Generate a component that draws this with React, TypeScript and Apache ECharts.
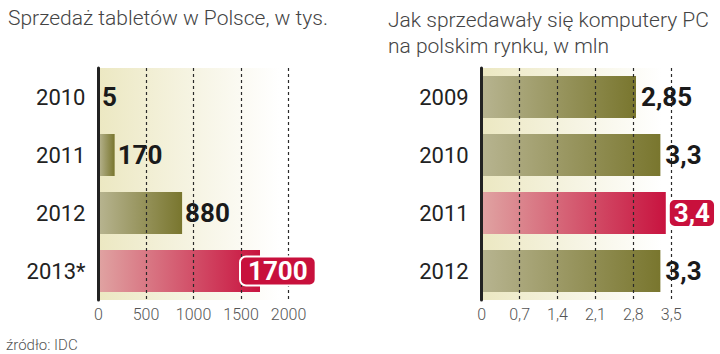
import React, { useEffect, useRef } from "react";
import * as echarts from "echarts";

const tabletYears = ["2010", "2011", "2012", "2013*"];
const tabletValues = [5, 170, 880, 1700];
const tabletTicks = [0, 500, 1000, 1500, 2000];

const pcYears = ["2009", "2010", "2011", "2012"];
const pcValues = [2.85, 3.3, 3.4, 3.3];
const pcLabels = ["2,85", "3,3", "3,4", "3,3"];
const pcTicks = [0, 0.7, 1.4, 2.1, 2.8, 3.5];

const highlightTablet = 3;
const highlightPc = 2;

const LIGHT = "Roboto";
const BOLD = "Roboto, sans-serif";

const olive = new echarts.graphic.LinearGradient(0, 0, 1, 0, [
  { offset: 0, color: "#b7b490" },
  { offset: 1, color: "#79762e" },
]);
const crimson = new echarts.graphic.LinearGradient(0, 0, 1, 0, [
  { offset: 0, color: "#e0a3a2" },
  { offset: 1, color: "#c8133f" },
]);
const panel = () =>
  new echarts.graphic.LinearGradient(0, 0, 1, 0, [
    { offset: 0, color: "#ece8c2" },
    { offset: 0.5, color: "#f6f4e3" },
    { offset: 0.95, color: "#ffffff" },
  ]);

export default function App() {
  const ref = useRef<HTMLDivElement>(null);
  useEffect(() => {
    document.body.style.margin = "0";
    const chart = echarts.init(ref.current!, null, { renderer: "svg" });
    const valueLabel = {
      show: true,
      position: "right",
      distance: 3,
      color: "#1a1a1a",
      fontFamily: BOLD,
      fontWeight: "bold",
      fontSize: 26,
    };
    const boxLabel = (distance: number, pad: number[]) => ({
      show: true,
      position: "right",
      distance,
      color: "#ffffff",
      fontFamily: BOLD,
      fontWeight: "bold",
      fontSize: 26,
      backgroundColor: "#c8103c",
      borderColor: "#ffffff",
      borderWidth: 2,
      borderRadius: 5,
      padding: pad,
    });
    const xAxisBase = {
      type: "value",
      min: 0,
      z: 3,
      axisLine: { show: false },
      axisTick: { show: false },
      splitLine: { show: true, lineStyle: { color: "#2a2a2a", width: 1.2, type: [3, 3] } },
      axisLabel: { color: "#555", fontFamily: LIGHT, fontWeight: 300, fontSize: 16, margin: 6 },
    };
    const yAxisBase = {
      type: "category",
      inverse: true,
      z: 4,
      axisLine: { show: true, lineStyle: { color: "#222", width: 3 } },
      axisTick: { show: false },
      axisLabel: { color: "#222", fontFamily: LIGHT, fontWeight: 400, fontSize: 22, margin: 13 },
    };
    const transparent = "rgba(0,0,0,0)";
    chart.setOption({
      animation: false,
      title: [
        {
          text: "Sprzedaż tabletów w Polsce, w tys.",
          left: 3,
          top: 2,
          textStyle: { fontFamily: LIGHT, fontWeight: 300, fontSize: 21, color: "#444" },
        },
        {
          text: "Jak sprzedawały się komputery PC\nna polskim rynku, w mln",
          left: 383,
          top: 2,
          textStyle: { fontFamily: LIGHT, fontWeight: 300, fontSize: 21, color: "#444", lineHeight: 26 },
        },
        {
          text: "źródło: IDC",
          left: 1,
          top: 332,
          textStyle: { fontFamily: LIGHT, fontWeight: 300, fontSize: 15, color: "#555" },
        },
      ],
      grid: [
        { left: 98.5, top: 68, width: 190, height: 232, show: true, borderWidth: 0, backgroundColor: panel() },
        { left: 481.7, top: 68, width: 189.5, height: 232, show: true, borderWidth: 0, backgroundColor: panel() },
      ],
      xAxis: [
        {
          ...xAxisBase,
          gridIndex: 0,
          max: tabletTicks[tabletTicks.length - 1],
          interval: tabletTicks[1] - tabletTicks[0],
          axisLabel: { ...xAxisBase.axisLabel, formatter: (v: number) => String(v) },
        },
        {
          ...xAxisBase,
          gridIndex: 1,
          max: pcTicks[pcTicks.length - 1],
          interval: pcTicks[1] - pcTicks[0],
          axisLabel: {
            ...xAxisBase.axisLabel,
            formatter: (v: number) => String(Math.round(v * 10) / 10).replace(".", ","),
          },
        },
      ],
      yAxis: [
        { ...yAxisBase, gridIndex: 0, data: tabletYears },
        { ...yAxisBase, gridIndex: 1, data: pcYears },
      ],
      series: [
        {
          type: "bar",
          xAxisIndex: 0,
          yAxisIndex: 0,
          barWidth: 42,
          z: 2,
          data: tabletValues.map((v, i) => ({
            value: v,
            itemStyle: { color: i === highlightTablet ? crimson : olive },
          })),
        },
        {
          type: "bar",
          xAxisIndex: 0,
          yAxisIndex: 0,
          barWidth: 42,
          barGap: "-100%",
          z: 6,
          silent: true,
          data: tabletValues.map((v, i) => ({
            value: v,
            itemStyle: { color: transparent },
            label: i === highlightTablet ? boxLabel(-19, [1, 7, 0, 7]) : valueLabel,
          })),
        },
        {
          type: "bar",
          xAxisIndex: 1,
          yAxisIndex: 1,
          barWidth: 42,
          z: 2,
          data: pcValues.map((v, i) => ({
            value: v,
            itemStyle: { color: i === highlightPc ? crimson : olive },
          })),
        },
        {
          type: "bar",
          xAxisIndex: 1,
          yAxisIndex: 1,
          barWidth: 42,
          barGap: "-100%",
          z: 6,
          silent: true,
          data: pcValues.map((v, i) => ({
            value: v,
            itemStyle: { color: transparent },
            label:
              i === highlightPc
                ? { ...boxLabel(4, [0, 4, 0, 4]), formatter: pcLabels[i] }
                : { ...valueLabel, distance: 5, formatter: pcLabels[i] },
          })),
        },
      ],
    });
    return () => chart.dispose();
  }, []);
  return <div ref={ref} style={{ width: 720, height: 354 }} />;
}
